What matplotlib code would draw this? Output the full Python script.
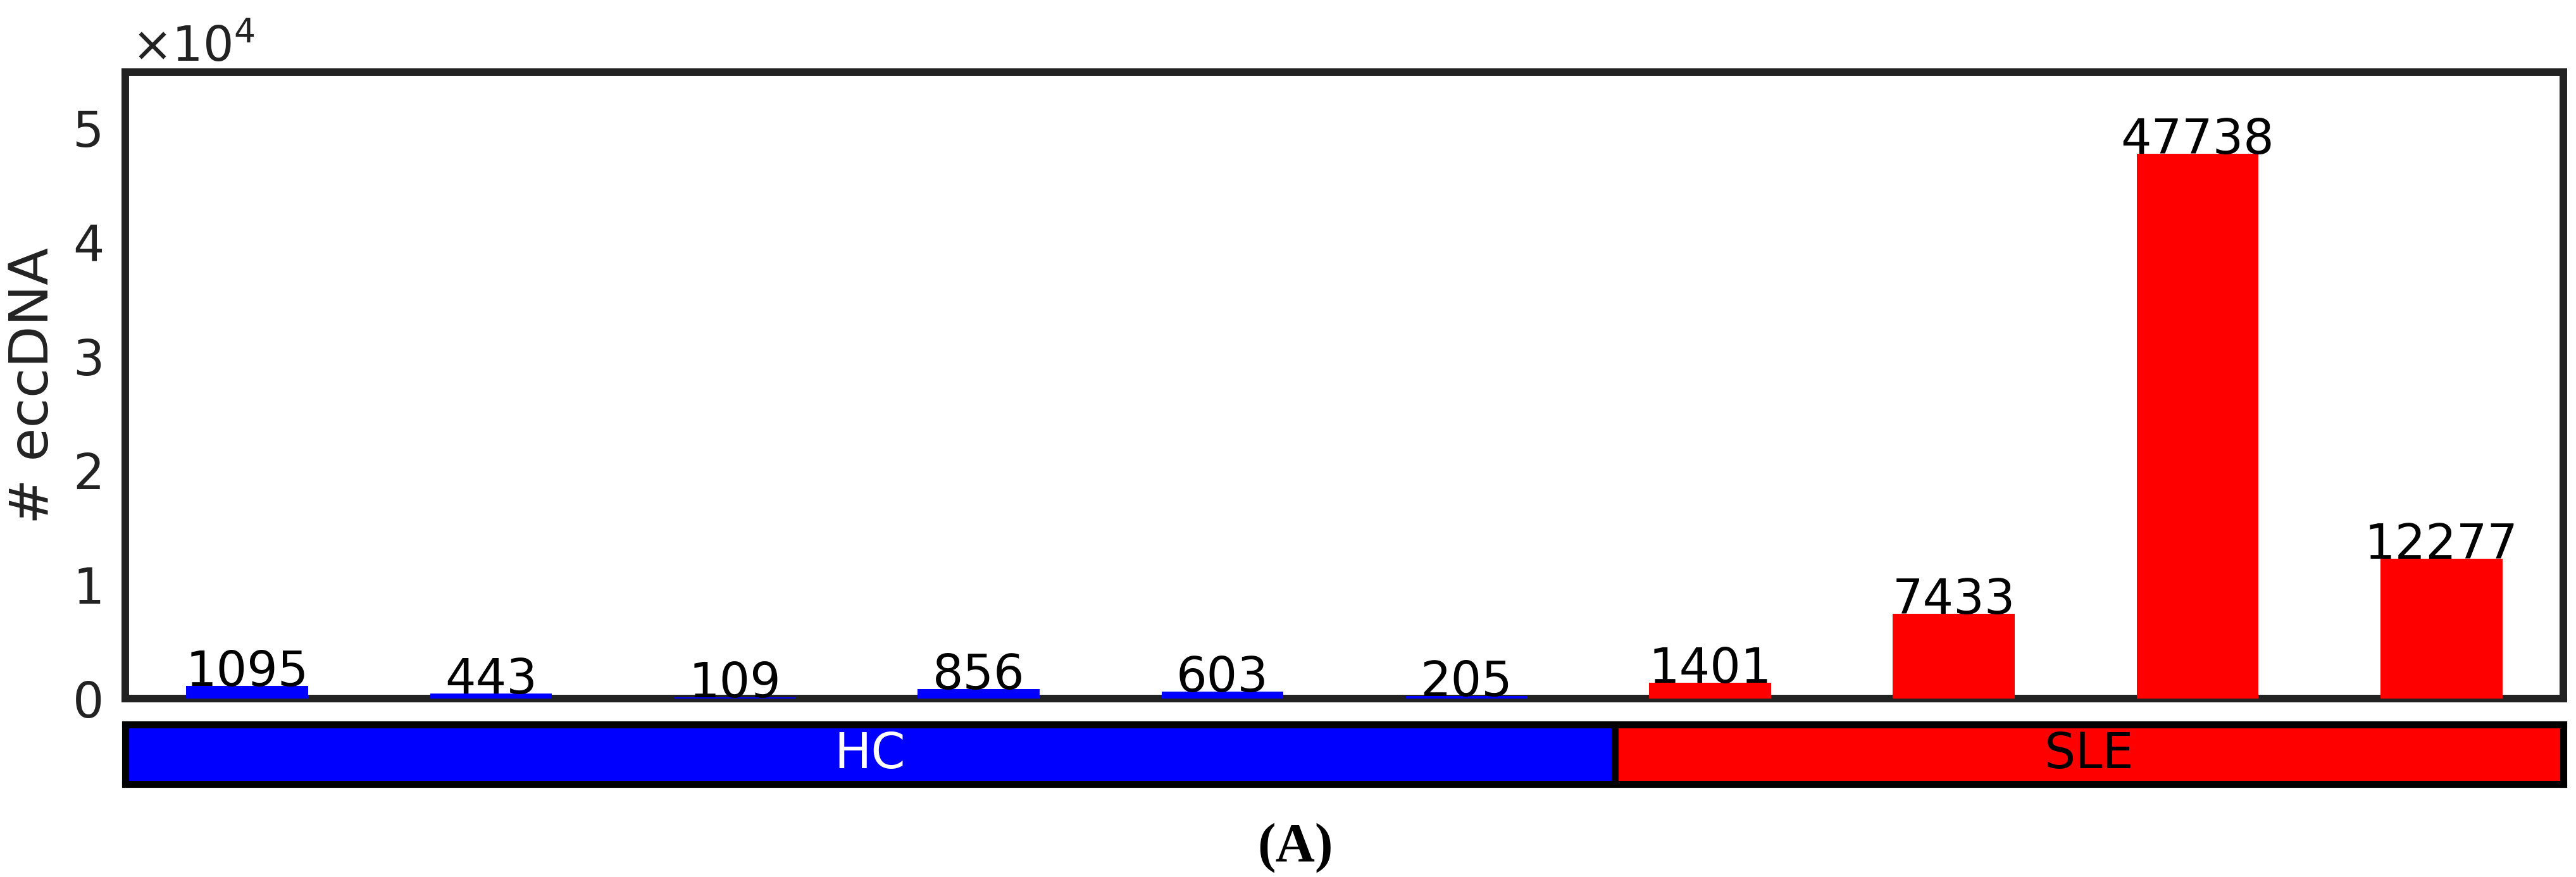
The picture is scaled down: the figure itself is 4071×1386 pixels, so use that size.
import matplotlib
matplotlib.use("Agg")
import matplotlib.pyplot as plt
import numpy as np

# ---- data ----
samples = list(range(1, 11))
counts = [1095, 443, 109, 856, 603, 205, 1401, 7433, 47738, 12277]
groups = ["HC", "HC", "HC", "HC", "HC", "HC", "SLE", "SLE", "SLE", "SLE"]
group_names = ["HC", "SLE"]
group_colors = {"HC": "#0000ff", "SLE": "#ff0000"}
group_text_colors = {"HC": "white", "SLE": "black"}
yticks = [0, 10000, 20000, 30000, 40000, 50000]
ytick_labels = ["0", "1", "2", "3", "4", "5"]

W, H, DPI = 4071, 1386, 100
fig = plt.figure(figsize=(W / DPI, H / DPI), dpi=DPI)
plt.rcParams['font.family'] = ['DejaVu Sans']

L, R = 198 / W, 4051 / W
ax = fig.add_axes([L, 1 - 1104 / H, R - L, (1104 - 114) / H])

bar_colors = [group_colors[g] for g in groups]
bars = ax.bar(samples, counts, width=0.5, color=bar_colors, zorder=3)
for b, v in zip(bars, counts):
    ax.text(b.get_x() + b.get_width() / 2, v, str(v), ha="center", va="baseline",
            fontsize=55, color="black", zorder=4)

ax.set_xlim(0.5, len(samples) + 0.5)
ax.set_ylim(0, max(counts) * 1.15)
ax.set_xticks([])
ax.set_yticks(yticks)
ax.set_yticklabels(ytick_labels)
ax.tick_params(axis="y", length=0, pad=24, labelsize=56, labelcolor="#222222")
for s in ax.spines.values():
    s.set_linewidth(8.6)
    s.set_color("#222222")
    s.set_zorder(2.5)

fig.text(53 / W, 1 - 609 / H, "# eccDNA", fontsize=62, color="#222222",
         rotation=90, ha="center", va="center")

fig.text(208 / W, 1 - 97 / H, r"$\times10^{4}$", fontsize=55, color="#222222",
         ha="left", va="baseline")

# ---- group annotation bar ----
gax = fig.add_axes([L, 1 - 1239 / H, R - L, (1239 - 1144.5) / H])
gax.set_xlim(0.5, len(samples) + 0.5)
gax.set_ylim(0, 1)
gax.set_xticks([])
gax.set_yticks([])
split_shift = 0.11
start = 0.5
for gname in group_names:
    n = groups.count(gname)
    end = start + n + (split_shift if gname == group_names[0] else 0)
    if gname == group_names[-1]:
        end = len(samples) + 0.5
    gax.axvspan(start, end, color=group_colors[gname], zorder=1)
    gax.text((start + end) / 2, 0.5, gname, ha="center", va="center",
             fontsize=56, color=group_text_colors[gname], zorder=3)
    if gname != group_names[-1]:
        gax.axvline(end, color="black", lw=8, zorder=2)
    start = end
for s in gax.spines.values():
    s.set_linewidth(8)
    s.set_color("black")

fig.text(2047 / W, 1 - 1340 / H, "(A)", fontsize=62, fontweight="bold",
         family="Liberation Serif", ha="center", va="center")

fig.savefig("out.png", dpi=DPI)
